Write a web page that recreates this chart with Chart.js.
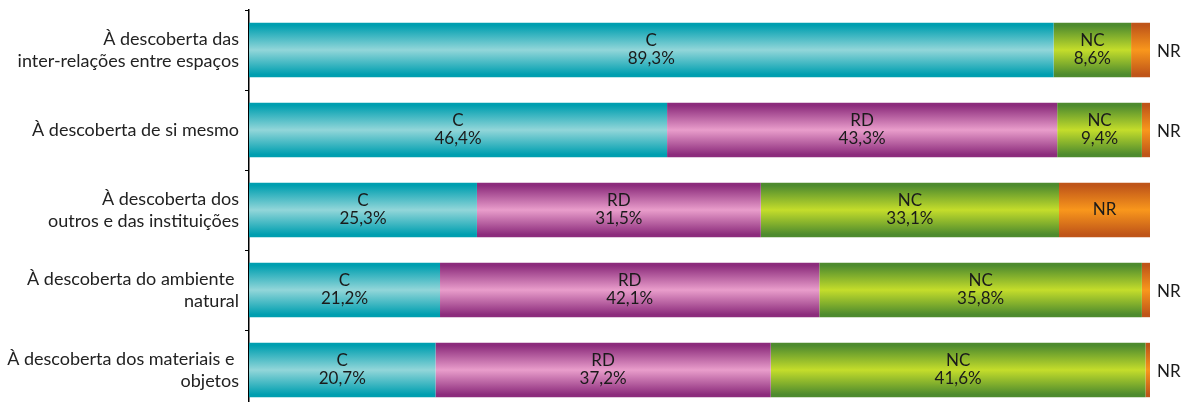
<!DOCTYPE html>
<html>
<head>
<meta charset="utf-8">
<script src="https://cdn.jsdelivr.net/npm/chart.js@4/dist/chart.umd.min.js"></script>
<style>
  body { margin: 0; background: #fff; overflow: hidden; }
  #wrap { width: 1185px; height: 410px; }
</style>
</head>
<body>
<div id="wrap"><canvas id="graf"></canvas></div>
<script>
// data
const categories = [
  ['À descoberta das', 'inter-relações entre espaços'],
  ['À descoberta de si mesmo'],
  ['À descoberta dos', 'outros e das instituições'],
  ['À descoberta do ambiente ', 'natural'],
  ['À descoberta dos materiais e ', 'objetos']
];
const seriesNames = ['C', 'RD', 'NC', 'NR'];
const valC  = [89.3, 46.4, 25.3, 21.2, 20.7];
const valRD = [0, 43.3, 31.5, 42.1, 37.2];
const valNC = [8.6, 9.4, 33.1, 35.8, 41.6];
const valNR = [2.1, 0.9, 10.1, 0.9, 0.5];

// edge colour, middle colour
const colC  = ['#009fb0', '#92d6d9'];
const colRD = ['#8c2c7c', '#e99dcb'];
const colNC = ['#4e8b2e', '#c4dd2b'];
const colNR = ['#bf5519', '#f9971c'];

const barPct = 0.68;
const fontFam = 'Lato, "Open Sans", sans-serif';

function makeGrad(ctx, c){
  let chart = ctx.chart;
  let area = chart.chartArea;
  if (!area || ctx.dataIndex === undefined) return c[0];
  let mid = chart.scales.y.getPixelForValue(ctx.dataIndex);
  let h = (area.bottom - area.top) / categories.length * barPct / 2;
  let g = chart.ctx.createLinearGradient(0, mid - h, 0, mid + h);
  g.addColorStop(0, c[0]);
  g.addColorStop(0.05, c[0]);
  g.addColorStop(0.5, c[1]);
  g.addColorStop(0.95, c[0]);
  g.addColorStop(1, c[0]);
  return g;
}

function fmt(v){
  return v.toFixed(1).replace('.', ',') + '%';
}

const labelPlugin = {
  id: 'segLabels',
  afterDatasetsDraw(chart){
    let c = chart.ctx;
    c.save();
    c.font = '17px ' + fontFam;
    c.fillStyle = '#1a1a1a';
    c.textBaseline = 'middle';
    chart.data.datasets.forEach((ds, di) => {
      let meta = chart.getDatasetMeta(di);
      meta.data.forEach((bar, i) => {
        let v = ds.data[i];
        if (!v) return;
        let name = seriesNames[di];
        if (name === 'NR') {
          if (v < 5) {
            c.textAlign = 'left';
            c.fillText('NR', chart.chartArea.right + 7, bar.y + 2);
          } else {
            c.textAlign = 'center';
            c.fillText('NR', (bar.x + bar.base) / 2, bar.y);
          }
          return;
        }
        c.textAlign = 'center';
        let cx = (bar.x + bar.base) / 2;
        c.fillText(name, cx, bar.y - 9);
        c.fillText(fmt(v), cx, bar.y + 9);
      });
    });
    c.restore();
  }
};

function create_graph(canvas){
  let dataSets = [valC, valRD, valNC, valNR].map((arr, k) => {
    let cols = [colC, colRD, colNC, colNR][k];
    return {
      label: seriesNames[k],
      data: arr,
      backgroundColor: (ctx) => makeGrad(ctx, cols),
      borderWidth: 0,
      barPercentage: barPct,
      categoryPercentage: 1
    };
  });
  new Chart(canvas, {
    type: 'bar',
    data: {
      labels: categories,
      datasets: dataSets
    },
    options: {
      indexAxis: 'y',
      responsive: true,
      maintainAspectRatio: false,
      animation: false,
      layout: { padding: { top: 10, right: 35, bottom: 0, left: 0 } },
      plugins: {
        legend: { display: false },
        tooltip: { enabled: false }
      },
      scales: {
        x: {
          stacked: true,
          min: 0,
          max: 100,
          display: false
        },
        y: {
          stacked: true,
          afterFit: (scale) => {
            scale.width = 249;
            scale.paddingTop = 0;
            scale.paddingBottom = 0;
          },
          grid: {
            offset: true,
            drawOnChartArea: false,
            tickLength: 4,
            color: '#000'
          },
          border: { color: '#000', width: 1.5 },
          ticks: {
            color: '#222',
            padding: 6,
            font: { family: fontFam, size: 18, lineHeight: 1.25 }
          }
        }
      }
    },
    plugins: [labelPlugin]
  });
}

create_graph(document.getElementById('graf'));
</script>
</body>
</html>
